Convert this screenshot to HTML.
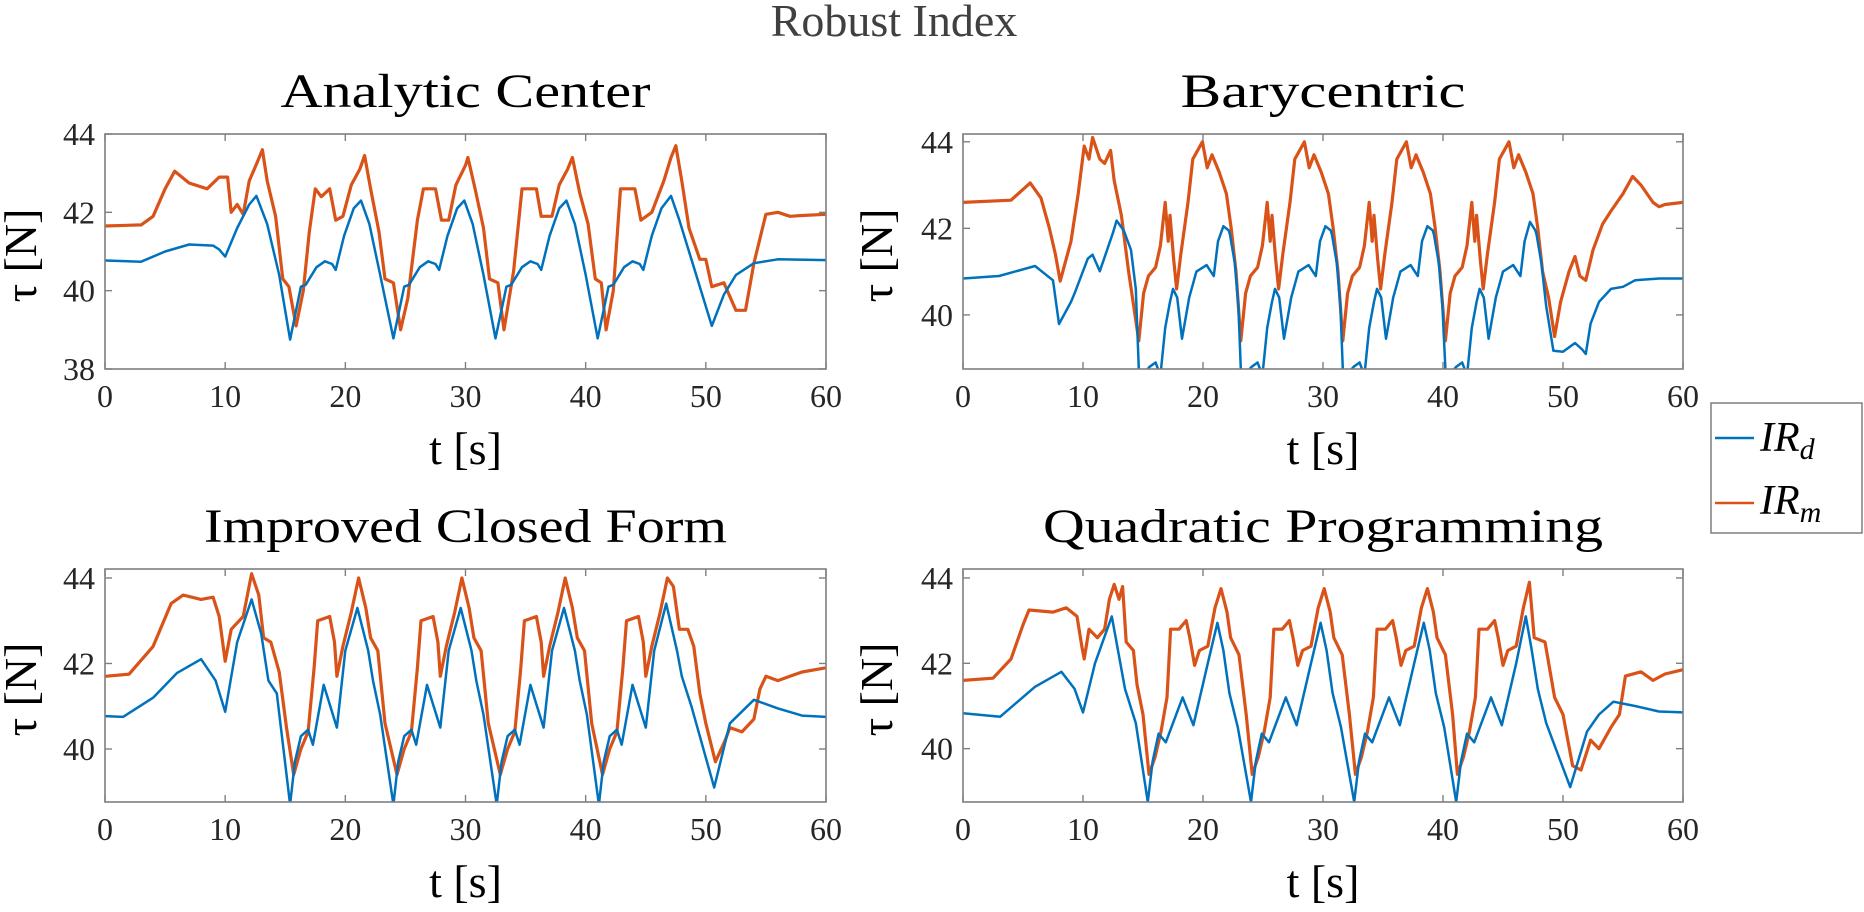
<!DOCTYPE html>
<html><head><meta charset="utf-8">
<style>
html,body{margin:0;padding:0;background:#fff;}
svg{display:block;}
text{font-family:"Liberation Serif",serif;}
</style></head>
<body>
<svg id="fig" width="1864" height="912" viewBox="0 0 1864 912" xmlns="http://www.w3.org/2000/svg">
<text x="894" y="36" font-size="46" fill="#404040" text-anchor="middle">Robust Index</text>
<g id="plots"></g>
<g>
<rect x="1711" y="403" width="151" height="130" fill="#fff" stroke="#7f7f7f" stroke-width="1.5"/>
<line x1="1715" y1="438" x2="1754" y2="438" stroke="#0072BD" stroke-width="2.5"/>
<text x="1760" y="451" font-size="42" font-style="italic" fill="#000">IR<tspan font-size="30" dy="8">d</tspan></text>
<line x1="1715" y1="503" x2="1754" y2="503" stroke="#D95319" stroke-width="2.5"/>
<text x="1760" y="514" font-size="42" font-style="italic" fill="#000">IR<tspan font-size="30" dy="8">m</tspan></text>
</g>
</svg>
<script>
// ---- Analytic Center ----
const acBlueT=[0,3,5,7,9,9.5,10,11,12,12.6,13.5,14.5,15.4,16.3,16.7,17.6,18.3,18.9,19.2,19.9,20.7,21.3,22,22.9,24.0,24.9,25.3,26.2,26.9,27.5,27.8,28.5,29.3,29.9,30.6,31.5,32.5,33.4,33.8,34.7,35.4,36,36.3,37,37.8,38.4,39.1,40.0,41.0,41.9,42.3,43.2,43.9,44.5,44.8,45.5,46.3,47.1,47.8,48.8,50.5,51.5,52.5,54,56,60];
const acBlueV=[40.77,40.74,41.0,41.18,41.15,41.05,40.87,41.6,42.2,42.42,41.7,40.4,38.75,40.1,40.15,40.6,40.75,40.68,40.53,41.4,42.1,42.3,41.7,40.4,38.78,40.1,40.15,40.6,40.75,40.68,40.53,41.4,42.1,42.3,41.7,40.4,38.78,40.1,40.15,40.6,40.75,40.68,40.53,41.4,42.1,42.3,41.7,40.4,38.78,40.1,40.15,40.6,40.75,40.68,40.53,41.4,42.1,42.42,41.8,40.8,39.1,39.9,40.4,40.7,40.8,40.78];
const acOrT=[0,3,4,5,5.8,7,8.5,9.5,10.2,10.5,11,11.5,12,12.7,13.1,13.5,14.2,14.8,15.3,15.9,16.5,17,17.5,18,18.7,19.2,19.8,20.5,21.2,21.6,22.1,22.8,23.3,24,24.6,25.2,26,26.5,27.5,28,28.6,29.2,30,30.2,30.8,31.5,32,32.7,33.2,34,34.7,35.9,36.3,37.2,37.8,38.5,38.9,39.5,40.2,40.8,41.3,41.7,42.3,42.9,44.1,44.6,45.5,46.5,47.1,47.5,48,48.6,49.5,50,50.5,51.5,52.5,53.3,54,55,56,57,58,60];
const acOrV=[41.65,41.68,41.9,42.6,43.05,42.75,42.6,42.9,42.9,42.0,42.2,41.95,42.8,43.3,43.6,42.8,41.9,40.3,40.1,39.1,40.0,41.5,42.6,42.4,42.6,41.8,41.9,42.7,43.1,43.45,42.6,41.5,40.3,40.2,39.0,39.8,41.8,42.6,42.6,41.8,41.8,42.7,43.2,43.4,42.6,41.6,40.3,40.2,39.0,40.5,42.6,42.6,41.9,41.9,42.7,43.1,43.4,42.5,41.7,40.3,40.2,39.0,40.0,42.6,42.6,41.8,42.0,42.8,43.4,43.7,42.8,41.6,40.8,40.8,40.1,40.2,39.5,39.5,40.7,41.95,42.0,41.9,41.92,41.95];
// ---- Barycentric ----
const baBlueT=[0,3,6,7.5,8.0,9,9.3,10.4,10.8,11.4,12.5,12.8,13.4,14,14.4,14.65,14.95,15.55,16.05,16.45,16.85,17.25,17.5,17.85,18.25,18.85,19.45,20.3,20.65,20.9,21.25,21.7,22.15,22.25,22.65,22.95,23.15,23.45,24.05,24.55,24.95,25.35,25.75,26.0,26.35,26.75,27.35,27.95,28.8,29.15,29.4,29.75,30.2,30.65,30.75,31.15,31.45,31.65,31.95,32.55,33.05,33.45,33.85,34.25,34.5,34.85,35.25,35.85,36.45,37.3,37.65,37.9,38.25,38.7,39.15,39.25,39.65,39.95,40.2,40.5,41.1,41.6,42.0,42.4,42.8,43.05,43.4,43.8,44.4,45.0,45.85,46.2,46.45,46.8,47.25,47.7,47.8,48.2,48.6,49.2,50,51,51.6,51.9,52.3,53,54,55,56,58,60];
const baBlueV=[40.84,40.9,41.13,40.8,39.79,40.3,40.5,41.3,41.39,41.01,41.9,42.18,41.95,41.5,40.6,38.75,38.6,38.8,38.9,38.6,39.7,40.3,40.6,40.4,39.45,40.4,41.0,41.15,41.0,40.9,41.7,42.05,41.95,41.85,41.2,40.2,38.75,38.6,38.8,38.9,38.6,39.7,40.3,40.6,40.4,39.45,40.4,41.0,41.15,41.0,40.9,41.7,42.05,41.95,41.85,41.2,40.2,38.75,38.6,38.8,38.9,38.6,39.7,40.3,40.6,40.4,39.45,40.4,41.0,41.15,41.0,40.9,41.7,42.05,41.95,41.85,41.2,40.2,38.75,38.6,38.8,38.9,38.6,39.7,40.3,40.6,40.4,39.45,40.4,41.0,41.15,41.0,40.9,41.7,42.15,41.95,41.85,41.2,40.2,39.17,39.15,39.35,39.2,39.1,39.8,40.3,40.6,40.65,40.8,40.84,40.84];
const baOrT=[0,4,5,5.6,6.5,7.2,7.7,8.1,9,9.6,10.1,10.5,10.8,11.4,11.8,12.3,12.6,13.2,13.8,14.65,15.05,15.45,16.05,16.45,16.85,17.1,17.25,17.55,17.8,18.15,18.75,19.15,19.95,20.35,20.75,21.35,21.95,22.35,22.75,23.15,23.55,23.95,24.55,24.95,25.35,25.6,25.75,26.05,26.3,26.65,27.25,27.65,28.45,28.85,29.25,29.85,30.45,30.85,31.25,31.65,32.05,32.45,33.05,33.45,33.85,34.1,34.25,34.55,34.8,35.15,35.75,36.15,36.95,37.35,37.75,38.35,38.95,39.35,39.75,40.2,40.6,41.0,41.6,42.0,42.4,42.65,42.8,43.1,43.35,43.7,44.3,44.7,45.5,45.9,46.3,46.9,47.5,47.9,48.3,48.8,49.3,49.8,50.5,51,51.4,51.9,52.5,53.3,54,55,55.8,56.5,57.5,58,58.5,60];
const baOrV=[42.6,42.65,42.9,43.05,42.7,42.0,41.4,40.78,41.7,42.8,43.9,43.6,44.1,43.6,43.5,43.8,43.1,42.3,41.0,39.4,40.5,40.9,41.1,41.6,42.6,41.7,42.3,41.3,40.6,41.4,42.6,43.6,44.0,43.4,43.7,43.3,42.8,42.0,41.0,39.4,40.5,40.9,41.1,41.6,42.6,41.7,42.3,41.3,40.6,41.4,42.6,43.6,44.0,43.4,43.7,43.3,42.8,42.0,41.0,39.4,40.5,40.9,41.1,41.6,42.6,41.7,42.3,41.3,40.6,41.4,42.6,43.6,44.0,43.4,43.7,43.3,42.8,42.0,41.0,39.4,40.5,40.9,41.1,41.6,42.6,41.7,42.3,41.3,40.6,41.4,42.6,43.6,44.0,43.4,43.7,43.3,42.8,42.0,41.0,40.4,39.5,40.3,41.0,41.35,40.9,40.8,41.5,42.1,42.4,42.8,43.2,43.0,42.6,42.5,42.55,42.6];
// ---- Improved Closed Form ----
const icBlueT=[0,1.5,4,6,8,9.2,10,11,12.2,13,13.6,14.3,15.4,15.8,16.3,16.9,17.3,18.2,19.3,20.0,21.0,21.9,22.3,22.9,24.0,24.4,24.9,25.5,25.9,26.8,27.9,28.6,29.6,30.5,30.9,31.5,32.6,33.0,33.5,34.1,34.5,35.4,36.5,37.2,38.2,39.1,39.5,40.1,41.1,41.5,42.0,42.6,43.0,43.9,45.0,45.7,46.7,47.6,48.0,48.8,50.7,52,54,56,58,60];
const icBlueV=[40.77,40.75,41.2,41.78,42.1,41.6,40.87,42.5,43.5,42.7,41.6,41.3,38.7,39.7,40.3,40.45,40.1,41.5,40.5,42.3,43.3,42.3,41.6,40.8,38.7,39.7,40.3,40.45,40.1,41.5,40.5,42.3,43.3,42.3,41.6,40.8,38.7,39.7,40.3,40.45,40.1,41.5,40.5,42.3,43.3,42.3,41.6,40.8,38.7,39.7,40.3,40.45,40.1,41.5,40.5,42.3,43.4,42.3,41.7,41.0,39.1,40.6,41.15,40.95,40.78,40.75];
const icOrT=[0,2,4,5.5,6.5,8,9,9.5,10,10.5,11.5,12.2,12.8,13.2,13.8,14.5,15.1,15.7,16.3,16.9,17.4,17.7,18.7,19.1,19.3,19.8,20.5,21.1,21.7,22.1,22.7,23.3,24.3,24.9,25.5,26.0,26.3,27.3,27.7,27.9,28.4,29.1,29.7,30.3,30.7,31.3,31.9,32.9,33.5,34.1,34.6,34.9,35.9,36.3,36.5,37.0,37.7,38.3,38.9,39.3,39.9,40.5,41.4,42.0,42.6,43.1,43.4,44.4,44.8,45.0,45.5,46.2,46.8,47.3,47.8,48.5,49.0,49.5,50.0,50.8,51.6,52,53,54,54.5,55,56,57,58,60];
const icOrV=[41.7,41.75,42.4,43.4,43.6,43.5,43.55,43.1,42.05,42.8,43.1,44.1,43.6,42.6,42.5,41.8,40.5,39.4,40.0,40.4,41.9,43.0,43.1,42.5,41.7,42.4,43.2,44.0,43.3,42.6,42.3,40.6,39.4,40.0,40.4,41.9,43.0,43.1,42.5,41.7,42.4,43.2,44.0,43.3,42.6,42.3,40.6,39.4,40.0,40.4,41.9,43.0,43.1,42.5,41.7,42.4,43.2,44.0,43.3,42.6,42.3,40.6,39.4,40.0,40.4,41.9,43.0,43.1,42.5,41.7,42.4,43.2,44.0,43.8,42.8,42.8,42.4,41.3,40.6,39.7,40.2,40.5,40.4,40.7,41.4,41.7,41.6,41.7,41.8,41.9];
// ---- Quadratic Programming ----
const qpBlueT=[0,3.1,6,8.2,9.3,10,11,12.4,13.5,14.4,15.4,15.8,16.3,16.9,18.3,19.2,20.4,21.2,21.7,22.2,22.9,24.0,24.4,24.9,25.5,26.9,27.8,29.0,29.8,30.3,30.8,31.5,32.6,33.0,33.5,34.1,35.5,36.4,37.6,38.4,38.9,39.4,40.1,41.1,41.5,42.0,42.6,44.0,44.9,46.1,46.9,47.4,47.9,48.6,50.6,52,53,54.2,56,58,60];
const qpBlueV=[40.83,40.75,41.45,41.8,41.4,40.85,42.0,43.1,41.4,40.6,38.75,39.7,40.35,40.15,41.2,40.55,42.0,42.95,42.3,41.3,40.5,38.75,39.7,40.35,40.15,41.2,40.55,42.0,42.95,42.3,41.3,40.5,38.75,39.7,40.35,40.15,41.2,40.55,42.0,42.95,42.3,41.3,40.5,38.75,39.7,40.35,40.15,41.2,40.55,42.0,43.1,42.3,41.4,40.6,39.1,40.4,40.8,41.1,41.0,40.87,40.85];
const qpOrT=[0,2.5,4,5,5.5,7.5,8.6,9.5,9.9,10.1,10.5,11.2,11.8,12.2,12.6,13.0,13.3,13.6,14.2,14.5,15.0,15.5,16.0,16.5,17.0,17.3,18.0,18.6,18.9,19.3,19.7,20.4,21.0,21.5,22.0,22.3,23.0,23.6,24.1,24.6,25.1,25.6,25.9,26.6,27.2,27.5,27.9,28.3,29.0,29.6,30.1,30.6,30.9,31.6,32.2,32.7,33.2,33.7,34.2,34.5,35.2,35.8,36.1,36.5,36.9,37.6,38.2,38.7,39.2,39.5,40.2,40.8,41.2,41.7,42.2,42.7,43.0,43.7,44.3,44.6,45.0,45.4,46.1,46.7,47.2,47.6,48.5,49.3,50.0,50.8,51.5,52.3,53,54,54.7,55.2,56.5,57.5,58.5,60];
const qpOrV=[41.6,41.65,42.1,42.9,43.25,43.2,43.3,43.1,42.4,42.1,42.8,42.6,42.8,43.5,43.85,43.5,43.8,42.5,42.3,41.5,40.8,39.4,39.8,40.4,41.2,42.8,42.8,43.0,42.6,41.95,42.3,42.4,43.3,43.75,43.2,42.6,42.2,40.8,39.4,39.8,40.4,41.2,42.8,42.8,43.0,42.6,41.95,42.3,42.4,43.3,43.75,43.2,42.6,42.2,40.8,39.4,39.8,40.4,41.2,42.8,42.8,43.0,42.6,41.95,42.3,42.4,43.3,43.75,43.2,42.6,42.2,40.8,39.4,39.8,40.4,41.2,42.8,42.8,43.0,42.6,41.95,42.3,42.4,43.3,43.9,42.6,42.5,41.2,40.8,39.6,39.5,40.2,40.0,40.5,40.8,41.7,41.8,41.6,41.75,41.85];

const xTicks=[0,10,20,30,40,50,60];
const NS='http://www.w3.org/2000/svg';
const root=document.getElementById('plots');
function mk(tag,attrs,parent){const e=document.createElementNS(NS,tag);for(const k in attrs)e.setAttribute(k,attrs[k]);(parent||root).appendChild(e);return e;}

const panels=[
 {id:'analytic-center',title:'Analytic Center',tl:370,x0:105,x1:826,y0:134,y1:369,ymin:38,ymax:44,yt:[38,40,42,44],bt:acBlueT,bv:acBlueV,ot:acOrT,ov:acOrV,ylx:36},
 {id:'barycentric',title:'Barycentric',tl:285,x0:963,x1:1683,y0:134,y1:369,ymin:38.75,ymax:44.18,yt:[40,42,44],bt:baBlueT,bv:baBlueV,ot:baOrT,ov:baOrV,ylx:892},
 {id:'improved-closed-form',title:'Improved Closed Form',tl:523,x0:105,x1:826,y0:569,y1:802,ymin:38.76,ymax:44.21,yt:[40,42,44],bt:icBlueT,bv:icBlueV,ot:icOrT,ov:icOrV,ylx:36},
 {id:'quadratic-programming',title:'Quadratic Programming',tl:560,x0:963,x1:1683,y0:569,y1:802,ymin:38.75,ymax:44.21,yt:[40,42,44],bt:qpBlueT,bv:qpBlueV,ot:qpOrT,ov:qpOrV,ylx:892}
];

panels.forEach((p,i)=>{
 const g=mk('g',{});
 
 
 const sx=t=>p.x0+(t/60)*(p.x1-p.x0);
 const sy=v=>p.y1-(v-p.ymin)/(p.ymax-p.ymin)*(p.y1-p.y0);
 const cx=(p.x0+p.x1)/2, cy=(p.y0+p.y1)/2;
 const tt=mk('text',{x:cx,y:p.y0-27,'font-size':48,'text-anchor':'middle',fill:'#000',textLength:p.tl,lengthAdjust:'spacingAndGlyphs'},g);
 tt.textContent=p.title;
 
 
 const cp=mk('clipPath',{id:'cp'+i},g);
 mk('rect',{x:p.x0,y:p.y0,width:p.x1-p.x0,height:p.y1-p.y0},cp);
 const mkLine=(T,V,col,w,name)=>{
   let d='';T.forEach((t,k)=>{d+=(k?'L':'M')+sx(t).toFixed(1)+' '+sy(V[k]).toFixed(1);});
   const pa=mk('path',{d:d,fill:'none',stroke:col,'stroke-width':w,'stroke-linejoin':'round','clip-path':'url(#cp'+i+')'},g);
   
   
 };
 mkLine(p.ot,p.ov,'#D95319',3.2,p.id+'-irm-line');
 mkLine(p.bt,p.bv,'#0072BD',2.5,p.id+'-ird-line');
 const box=mk('rect',{x:p.x0,y:p.y0,width:p.x1-p.x0,height:p.y1-p.y0,fill:'none',stroke:'#7f7f7f','stroke-width':1.6},g);
 
 
 xTicks.forEach(t=>{
   const x=sx(t);
   mk('line',{x1:x,y1:p.y1,x2:x,y2:p.y1-7,stroke:'#7f7f7f','stroke-width':1.4},g);
   mk('line',{x1:x,y1:p.y0,x2:x,y2:p.y0+7,stroke:'#7f7f7f','stroke-width':1.4},g);
   const lb=mk('text',{x:x,y:p.y1+38,'font-size':32,'text-anchor':'middle',fill:'#262626'},g);
   lb.textContent=t;
   
   
 });
 p.yt.forEach(v=>{
   const y=sy(v);
   mk('line',{x1:p.x0,y1:y,x2:p.x0+7,y2:y,stroke:'#7f7f7f','stroke-width':1.4},g);
   mk('line',{x1:p.x1,y1:y,x2:p.x1-7,y2:y,stroke:'#7f7f7f','stroke-width':1.4},g);
   const lb=mk('text',{x:p.x0-10,y:y+11,'font-size':32,'text-anchor':'end',fill:'#262626'},g);
   lb.textContent=v;
   
   
 });
 const xl=mk('text',{x:cx,y:p.y1+95,'font-size':46,'text-anchor':'middle',fill:'#000'},g);
 xl.textContent='t [s]';
 
 
 const yl=mk('text',{x:p.ylx,y:cy+4,'font-size':46,'text-anchor':'middle',fill:'#000',transform:'rotate(-90 '+p.ylx+' '+(cy+4)+')'},g);
 yl.textContent='τ [N]';
 
 
});
</script>
</body></html>
